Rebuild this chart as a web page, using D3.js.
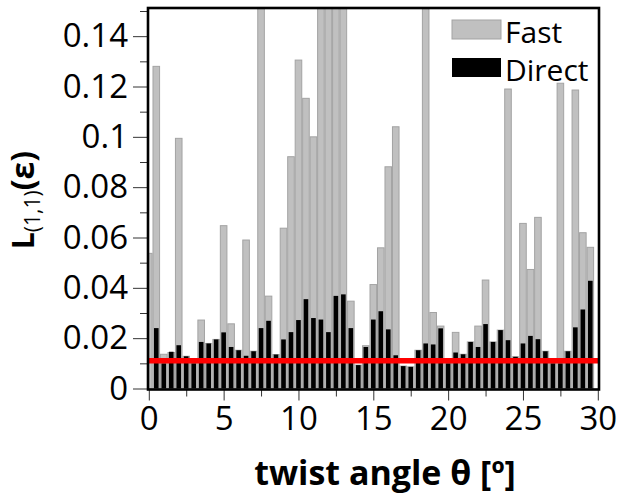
<!DOCTYPE html>
<html>
<head>
<meta charset="utf-8">
<script src="https://cdn.jsdelivr.net/npm/d3@7"></script>
<style>
  html, body { margin: 0; padding: 0; background: #fff; }
  svg { display: block; font-family: "Open Sans", "DejaVu Sans", sans-serif; }
</style>
</head>
<body>
<div id="chart"></div>
<script>
// twist angle categories (deg)
const angles = [
  0, 0.5, 1, 1.5, 2, 2.5, 3, 3.5, 4, 4.5,
  5, 5.5, 6, 6.5, 7, 7.5, 8, 8.5, 9, 9.5,
  10, 10.5, 11, 11.5, 12, 12.5, 13, 13.5, 14, 14.5,
  15, 15.5, 16, 16.5, 17, 17.5, 18, 18.5, 19, 19.5,
  20, 20.5, 21, 21.5, 22, 22.5, 23, 23.5, 24, 24.5,
  25, 25.5, 26, 26.5, 27, 27.5, 28, 28.5, 29, 29.5
];

// "Fast" series (bars above 0.15 are cut by the frame)
const fastValues = [
  0.0537, 0.128, 0.0136, 0.0143, 0.0994, 0.0128, 0.010, 0.0272, 0.0179, 0.0195,
  0.0647, 0.0257, 0.0152, 0.059, 0.0148, 0.16, 0.0367, 0.0135, 0.0637, 0.0921,
  0.1305, 0.1153, 0.100, 0.16, 0.16, 0.16, 0.16, 0.0347, 0.0093, 0.017,
  0.0413, 0.0559, 0.0881, 0.104, 0.0089, 0.0086, 0.0152, 0.16, 0.0302, 0.0248,
  0.010, 0.0223, 0.0136, 0.0185, 0.0248, 0.0431, 0.0185, 0.0232, 0.119, 0.0126,
  0.0656, 0.0473, 0.068, 0.0148, 0.010, 0.1213, 0.0148, 0.1186, 0.0619, 0.0561
];

// "Direct" series
const directValues = [
  0, 0.024, 0.010, 0.0146, 0.0172, 0.0128, 0.010, 0.0185, 0.0179, 0.0195,
  0.0223, 0.0165, 0.0152, 0.013, 0.0148, 0.024, 0.0269, 0.0135, 0.0195, 0.0224,
  0.0272, 0.0355, 0.028, 0.0274, 0.0224, 0.0368, 0.0374, 0.024, 0.0093, 0.0165,
  0.0274, 0.0307, 0.0235, 0.0132, 0.0089, 0.0086, 0.0152, 0.0179, 0.0175, 0.0239,
  0.010, 0.0143, 0.0136, 0.0185, 0.0165, 0.0256, 0.0185, 0.0232, 0.0192, 0.0126,
  0.0179, 0.0209, 0.0196, 0.0148, 0.010, 0.010, 0.0148, 0.0243, 0.0314, 0.0428
];

// reference level (red line)
const threshold = 0.011;

const xMajorTicks = [0, 5, 10, 15, 20, 25, 30];
const xMinorTicks = [2.5, 7.5, 12.5, 17.5, 22.5, 27.5];
const yMajorTicks = [0, 0.02, 0.04, 0.06, 0.08, 0.1, 0.12, 0.14];
const yMinorTicks = [0.01, 0.03, 0.05, 0.07, 0.09, 0.11, 0.13, 0.15];
const yTickLabels = ["0", "0.02", "0.04", "0.06", "0.08", "0.1", "0.12", "0.14"];

const seriesNames = ["Fast", "Direct"];

/**
 * 绘制整张图
 */
function drawChart() {
    const width = 618, height = 495;
    const plot = { left: 148, right: 599, top: 8, bottom: 389.5 };

    const svg = d3.select("#chart").append("svg")
        .attr("width", width).attr("height", height);

    const x = d3.scaleLinear().domain([0, 30]).range([148.8, 597.8]);
    const y = d3.scaleLinear().domain([0, 0.15]).range([388.5, 11]);

    const bandPx = x(0.5) - x(0);
    const fastW = bandPx * 0.88;
    const directW = bandPx * 0.62;

    // clip region = inside of the frame
    svg.append("defs").append("clipPath").attr("id", "plot-clip")
        .append("rect")
        .attr("x", plot.left).attr("y", plot.top)
        .attr("width", plot.right - plot.left).attr("height", plot.bottom - plot.top);

    const g = svg.append("g").attr("clip-path", "url(#plot-clip)");

    const rows = angles.map((a, i) => ({ a, fast: fastValues[i], direct: directValues[i] }));

    // 灰色 Fast 柱
    g.append("g").selectAll("rect").data(rows).join("rect")
        .attr("x", d => x(d.a) - fastW / 2)
        .attr("y", d => y(d.fast))
        .attr("width", fastW)
        .attr("height", d => y(0) - y(d.fast))
        .attr("fill", "#c0c0c0")
        .attr("stroke", "#a3a3a3")
        .attr("stroke-width", 1);

    // 黑色 Direct 柱
    g.append("g").selectAll("rect").data(rows).join("rect")
        .attr("x", d => x(d.a) - directW / 2)
        .attr("y", d => y(d.direct))
        .attr("width", directW)
        .attr("height", d => y(0) - y(d.direct))
        .attr("fill", "#000");

    // 红线
    svg.append("line")
        .attr("x1", plot.left).attr("x2", plot.right - 1)
        .attr("y1", y(threshold)).attr("y2", y(threshold))
        .attr("stroke", "#ff0000").attr("stroke-width", 5.5);

    // 坐标轴 ticks
    const tickColor = "#333";
    const xAxisMajor = d3.axisBottom(x).tickValues(xMajorTicks).tickSize(11).tickPadding(6)
        .tickFormat(d3.format("d"));
    const xAxisMinor = d3.axisBottom(x).tickValues(xMinorTicks).tickSize(7).tickFormat("");
    const yAxisMajor = d3.axisLeft(y).tickValues(yMajorTicks).tickSize(15).tickPadding(5)
        .tickFormat((d, i) => yTickLabels[i]);
    const yAxisMinor = d3.axisLeft(y).tickValues(yMinorTicks).tickSize(8).tickFormat("");

    const axes = [
        svg.append("g").attr("transform", `translate(0,${plot.bottom})`).call(xAxisMajor),
        svg.append("g").attr("transform", `translate(0,${plot.bottom})`).call(xAxisMinor),
        svg.append("g").attr("transform", `translate(${plot.left},0)`).call(yAxisMajor),
        svg.append("g").attr("transform", `translate(${plot.left},0)`).call(yAxisMinor)
    ];
    axes.forEach(a => {
        a.select(".domain").remove();
        a.selectAll("line").attr("stroke", tickColor).attr("stroke-width", 1);
        a.selectAll("text")
            .attr("fill", "#000")
            .style("font-family", "'Open Sans', sans-serif")
            .style("font-size", "33px");
    });

    // 外框
    svg.append("rect")
        .attr("x", plot.left).attr("y", plot.top)
        .attr("width", plot.right - plot.left).attr("height", plot.bottom - plot.top)
        .attr("fill", "none").attr("stroke", "#000").attr("stroke-width", 2.6);

    // x 轴标题
    svg.append("text")
        .attr("x", 385).attr("y", 485)
        .attr("text-anchor", "middle")
        .style("font-size", "34px").style("font-weight", "bold")
        .text("twist angle θ [º]");

    // y 轴标题 L(1,1)(ε)
    const yt = svg.append("text")
        .attr("transform", "translate(34,200) rotate(-90)")
        .attr("text-anchor", "middle")
        .style("font-weight", "bold");
    yt.append("tspan").style("font-size", "30px").text("L");
    yt.append("tspan").style("font-size", "21px").attr("dy", 6).style("font-weight", "normal").text("(1,1)");
    yt.append("tspan").style("font-size", "32px").attr("dy", -6).text("(ε)");

    // 图例
    const legend = svg.append("g").attr("transform", "translate(452,20)");
    const legendStyles = [
        { fill: "#c0c0c0", stroke: "#a3a3a3" },
        { fill: "#000", stroke: "none" }
    ];
    seriesNames.forEach((name, i) => {
        const row = legend.append("g").attr("transform", `translate(0,${i * 38})`);
        row.append("rect")
            .attr("width", 49).attr("height", 19)
            .attr("fill", legendStyles[i].fill)
            .attr("stroke", legendStyles[i].stroke);
        row.append("text")
            .attr("x", 53).attr("y", 22.5)
            .style("font-size", "30px")
            .text(name);
    });
}

drawChart();
</script>
</body>
</html>
